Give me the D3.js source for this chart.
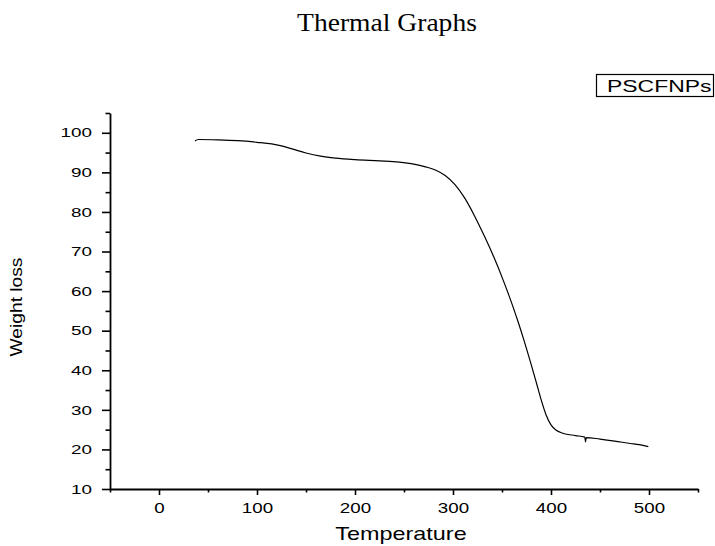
<!DOCTYPE html>
<html>
<head>
<meta charset="utf-8">
<script src="https://cdn.jsdelivr.net/npm/d3@7"></script>
<style>
  body { margin: 0; background: #fff; }
  svg { display: block; }
</style>
</head>
<body>
<script>
// Data
const temperature = [36.7, 40, 60, 80, 100, 115, 125, 135, 150, 165, 180, 200, 225, 245, 260, 272, 282, 292, 302, 312, 322, 332, 342, 351, 360, 367, 373, 379, 385, 390, 395, 400, 405, 412, 425, 434.5, 435.2, 436, 450, 465, 481, 490, 499.3];
const weightLoss = [97.9, 98.3, 98.2, 98.0, 97.6, 97.2, 96.7, 96.0, 94.9, 94.1, 93.6, 93.2, 92.9, 92.6, 92.1, 91.4, 90.6, 89.2, 86.9, 83.5, 79.0, 73.9, 68.4, 62.9, 56.9, 51.8, 47.1, 42.1, 36.9, 32.5, 28.7, 26.2, 24.9, 24.1, 23.5, 23.1, 21.9, 23.0, 22.6, 22.1, 21.5, 21.2, 20.7];
const xMajor = [0, 100, 200, 300, 400, 500];
const xMinor = [-50, 50, 150, 250, 350, 450, 550];
const yMajor = [10, 20, 30, 40, 50, 60, 70, 80, 90, 100];
const yMinor = [15, 25, 35, 45, 55, 65, 75, 85, 95, 105];
const seriesName = "PSCFNPs";

const width = 715, height = 546;
const margin = { top: 113, right: 17, bottom: 57, left: 110 };

const svg = d3.select("body").append("svg")
    .attr("width", width)
    .attr("height", height);

svg.append("rect").attr("width", width).attr("height", height).attr("fill", "#fff");

const x = d3.scaleLinear().domain([-50, 550]).range([margin.left, width - margin.right]);
const y = d3.scaleLinear().domain([10, 105]).range([height - margin.bottom, margin.top]);

// title
svg.append("text")
    .attr("transform", "translate(387,30.5) scale(1.06,1)")
    .attr("text-anchor", "middle")
    .style("font-family", "'Liberation Serif', serif")
    .style("font-size", "26px")
    .attr("fill", "#000")
    .text("Thermal Graphs");

const axisFont = "'Liberation Sans', Arial, sans-serif";

// x axis: minor then major
svg.append("g")
    .attr("transform", `translate(0,${y(10)})`)
    .call(d3.axisBottom(x).tickValues(xMinor).tickSize(3.5).tickSizeOuter(0).tickFormat(""))
    .call(g => g.select(".domain").remove())
    .call(g => g.selectAll("line").attr("stroke", "#000").attr("stroke-width", 1.6));

const xAxis = svg.append("g")
    .attr("transform", `translate(0,${y(10)})`)
    .call(d3.axisBottom(x).tickValues(xMajor).tickSize(6).tickSizeOuter(0).tickPadding(7));
xAxis.select(".domain").attr("stroke", "#000").attr("stroke-width", 1.8);
xAxis.selectAll("line").attr("stroke", "#000").attr("stroke-width", 1.6);
xAxis.selectAll("text")
    .attr("fill", "#000")
    .style("font-family", axisFont)
    .style("font-size", "15px")
    .attr("transform", "scale(1.25,1)");

// y axis: minor then major
svg.append("g")
    .attr("transform", `translate(${x(-50)},0)`)
    .call(d3.axisLeft(y).tickValues(yMinor).tickSize(4.5).tickSizeOuter(0).tickFormat(""))
    .call(g => g.select(".domain").remove())
    .call(g => g.selectAll("line").attr("stroke", "#000").attr("stroke-width", 1.6));

const ySx = 1.45;
const yAxis = svg.append("g")
    .attr("transform", `translate(${x(-50)},0)`)
    .call(d3.axisLeft(y).tickValues(yMajor).tickSize(8).tickSizeOuter(0));
yAxis.select(".domain").attr("stroke", "#000").attr("stroke-width", 1.8);
yAxis.selectAll("line").attr("stroke", "#000").attr("stroke-width", 1.6);
yAxis.selectAll("text")
    .attr("fill", "#000")
    .attr("x", -18 / ySx)
    .style("font-family", axisFont)
    .style("font-size", "13px")
    .attr("transform", `scale(${ySx},1)`);

// axis titles
svg.append("text")
    .attr("transform", "translate(401,540) scale(1.3,1)")
    .attr("text-anchor", "middle")
    .style("font-family", axisFont)
    .style("font-size", "18px")
    .attr("fill", "#000")
    .text("Temperature");

svg.append("text")
    .attr("transform", "translate(22,307) rotate(-90) scale(1.2,1)")
    .attr("text-anchor", "middle")
    .style("font-family", axisFont)
    .style("font-size", "16px")
    .attr("fill", "#000")
    .text("Weight loss");

// curve
const data = temperature.map((t, i) => ({ t: t, w: weightLoss[i] }));
const line = d3.line()
    .x(d => x(d.t))
    .y(d => y(d.w))
    .curve(d3.curveMonotoneX);

svg.append("path")
    .datum(data)
    .attr("d", line)
    .attr("fill", "none")
    .attr("stroke", "#000")
    .attr("stroke-width", 1.2);

// legend
const legend = svg.append("g").attr("transform", "translate(596,74)");
legend.append("rect")
    .attr("x", 0.5).attr("y", 0.5)
    .attr("width", 117).attr("height", 22)
    .attr("fill", "#fff")
    .attr("stroke", "#000")
    .attr("stroke-width", 1.2);
legend.append("text")
    .attr("transform", "translate(11,17.7) scale(1.35,1)")
    .style("font-family", axisFont)
    .style("font-size", "17px")
    .attr("fill", "#000")
    .text(seriesName);
</script>
</body>
</html>
